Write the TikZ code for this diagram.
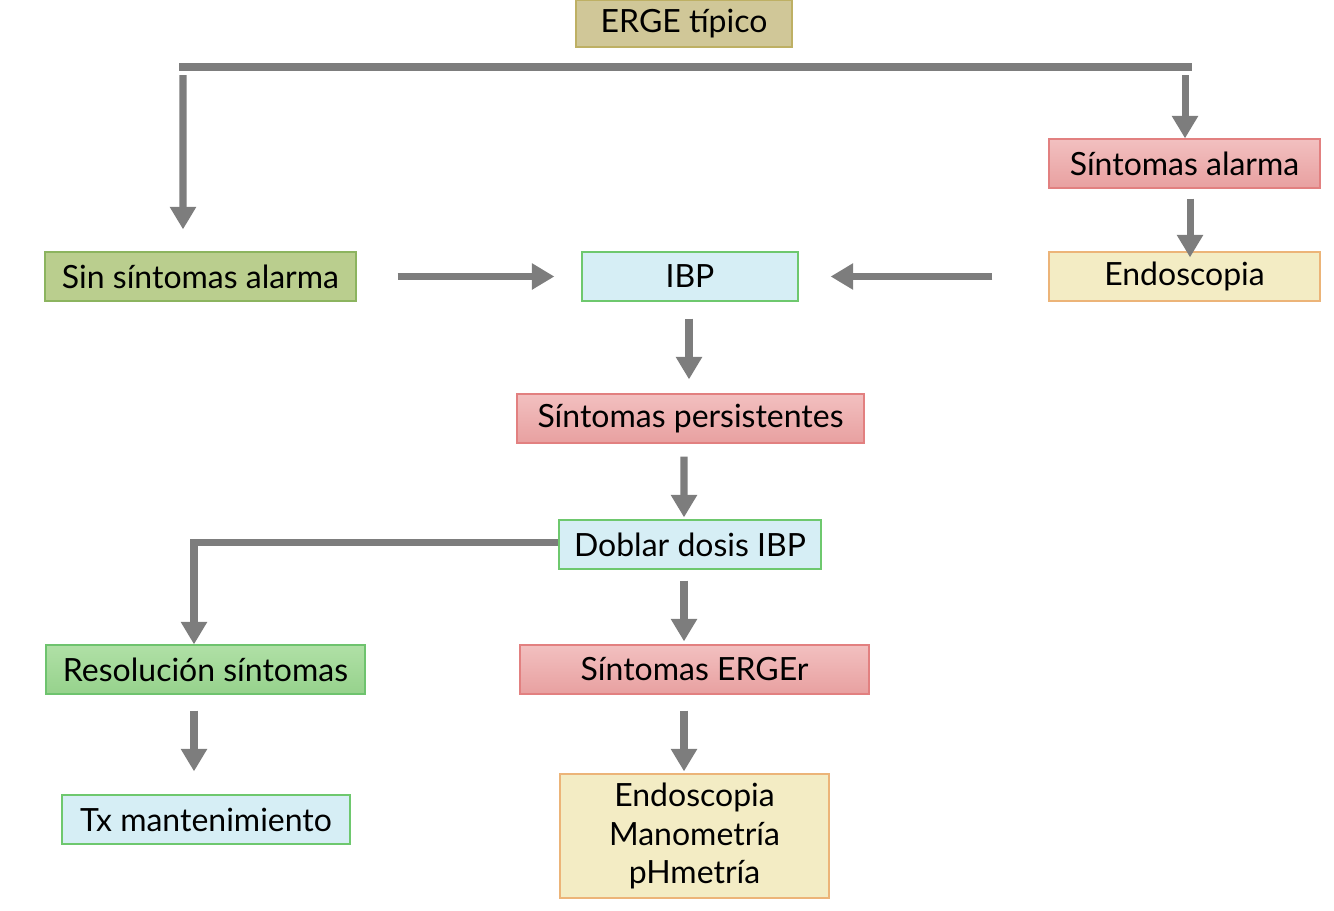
\documentclass[tikz,border=0pt]{standalone}
\usepackage{fontspec}
\setmainfont{Lato}
\usetikzlibrary{arrows.meta}
\definecolor{tanfill}{RGB}{208,199,152}
\definecolor{tanline}{RGB}{190,176,100}
\definecolor{olivefill}{RGB}{186,206,142}
\definecolor{oliveline}{RGB}{140,180,95}
\definecolor{pinktop}{RGB}{242,192,192}
\definecolor{pinkbot}{RGB}{232,160,160}
\definecolor{pinkline}{RGB}{226,128,128}
\definecolor{creamfill}{RGB}{243,236,196}
\definecolor{creamline}{RGB}{236,180,120}
\definecolor{bluefill}{RGB}{214,238,245}
\definecolor{blueline}{RGB}{110,200,110}
\definecolor{greentop}{RGB}{176,224,166}
\definecolor{greenbot}{RGB}{150,210,140}
\definecolor{greenline}{RGB}{110,195,110}
\definecolor{arrowgray}{RGB}{125,125,125}
\begin{document}
\begin{tikzpicture}[
  caja/.style={draw,line width=0.7pt,minimum height=0.98cm,inner sep=0pt,
    font=\fontsize{18.2}{21.8}\selectfont,align=center},
  tan/.style={caja,fill=tanfill,draw=tanline},
  olive/.style={caja,fill=olivefill,draw=oliveline},
  pink/.style={caja,top color=pinktop,bottom color=pinkbot,draw=pinkline},
  cream/.style={caja,fill=creamfill,draw=creamline},
  celeste/.style={caja,fill=bluefill,draw=blueline},
  verde/.style={caja,top color=greentop,bottom color=greenbot,draw=greenline},
  barra/.style={arrowgray,line width=4pt},
  flecha/.style={barra,-{Triangle[width=0.5cm,length=0.45cm]}}]
\useasboundingbox (0.000,0.000) rectangle (26.680,-18.200);
\node[tan,minimum width=4.320cm,minimum height=0.940cm] (erge) at (13.680,-0.470) {ERGE típico};
\node[pink,minimum width=5.420cm] (alarma) at (23.690,-3.270) {Síntomas alarma};
\node[cream,minimum width=5.420cm] (endo) at (23.690,-5.530) {Endoscopia};
\node[olive,minimum width=6.220cm] (sin) at (4.010,-5.530) {Sin síntomas alarma};
\node[celeste,minimum width=4.320cm] (ibp) at (13.800,-5.530) {IBP};
\node[pink,minimum width=6.940cm] (pers) at (13.810,-8.370) {Síntomas persistentes};
\node[celeste,minimum width=5.240cm] (doblar) at (13.800,-10.890) {Doblar dosis IBP};
\node[verde,minimum width=6.380cm] (resol) at (4.110,-13.390) {Resolución síntomas};
\node[pink,minimum width=6.980cm] (erger) at (13.890,-13.390) {Síntomas ERGEr};
\node[celeste,minimum width=5.760cm] (tx) at (4.120,-16.390) {Tx mantenimiento};
\node[cream,minimum width=5.380cm,minimum height=2.480cm] (pruebas) at (13.890,-16.720)
  {Endoscopia\\Manometría\\pHmetría};
\coordinate (barraI) at (3.580,-1.340);
\coordinate (barraD) at (23.840,-1.340);
\draw[barra] (barraI) -- (barraD);
\draw[flecha,shorten >=0.44cm] (3.660,-1.500) -- ([xshift=-0.35cm]sin.north);
\draw[flecha] (23.700,-1.500) -- ([xshift=0.01cm]alarma.north);
\draw[flecha,shorten <=0.20cm,shorten >=-0.12cm] ([xshift=0.11cm]alarma.south) -- ([xshift=0.11cm]endo.north);
\draw[flecha,shorten <=0.82cm,shorten >=0.54cm] (sin.east) -- (ibp.west);
\draw[flecha,shorten <=1.12cm,shorten >=0.64cm] (endo.west) -- (ibp.east);
\draw[flecha,shorten <=0.34cm,shorten >=0.28cm] ([xshift=-0.02cm]ibp.south) -- ([xshift=-0.03cm]pers.north);
\draw[flecha,shorten <=0.26cm,shorten >=0.04cm] ([xshift=-0.13cm]pers.south) -- ([xshift=-0.12cm]doblar.north);
\draw[flecha] ([yshift=0.05cm]doblar.west) -| ([xshift=-0.23cm]resol.north);
\draw[flecha,shorten <=0.22cm,shorten >=0.06cm] ([xshift=-0.12cm]doblar.south) -- ([xshift=-0.12cm]doblar.south |- erger.north);
\draw[flecha,shorten <=0.32cm,shorten >=0.46cm] ([xshift=-0.23cm]resol.south) -- ([xshift=-0.23cm]resol.south |- tx.north);
\draw[flecha,shorten <=0.32cm,shorten >=0.04cm] ([xshift=-0.21cm]erger.south) -- ([xshift=-0.21cm]pruebas.north);
\end{tikzpicture}
\end{document}
